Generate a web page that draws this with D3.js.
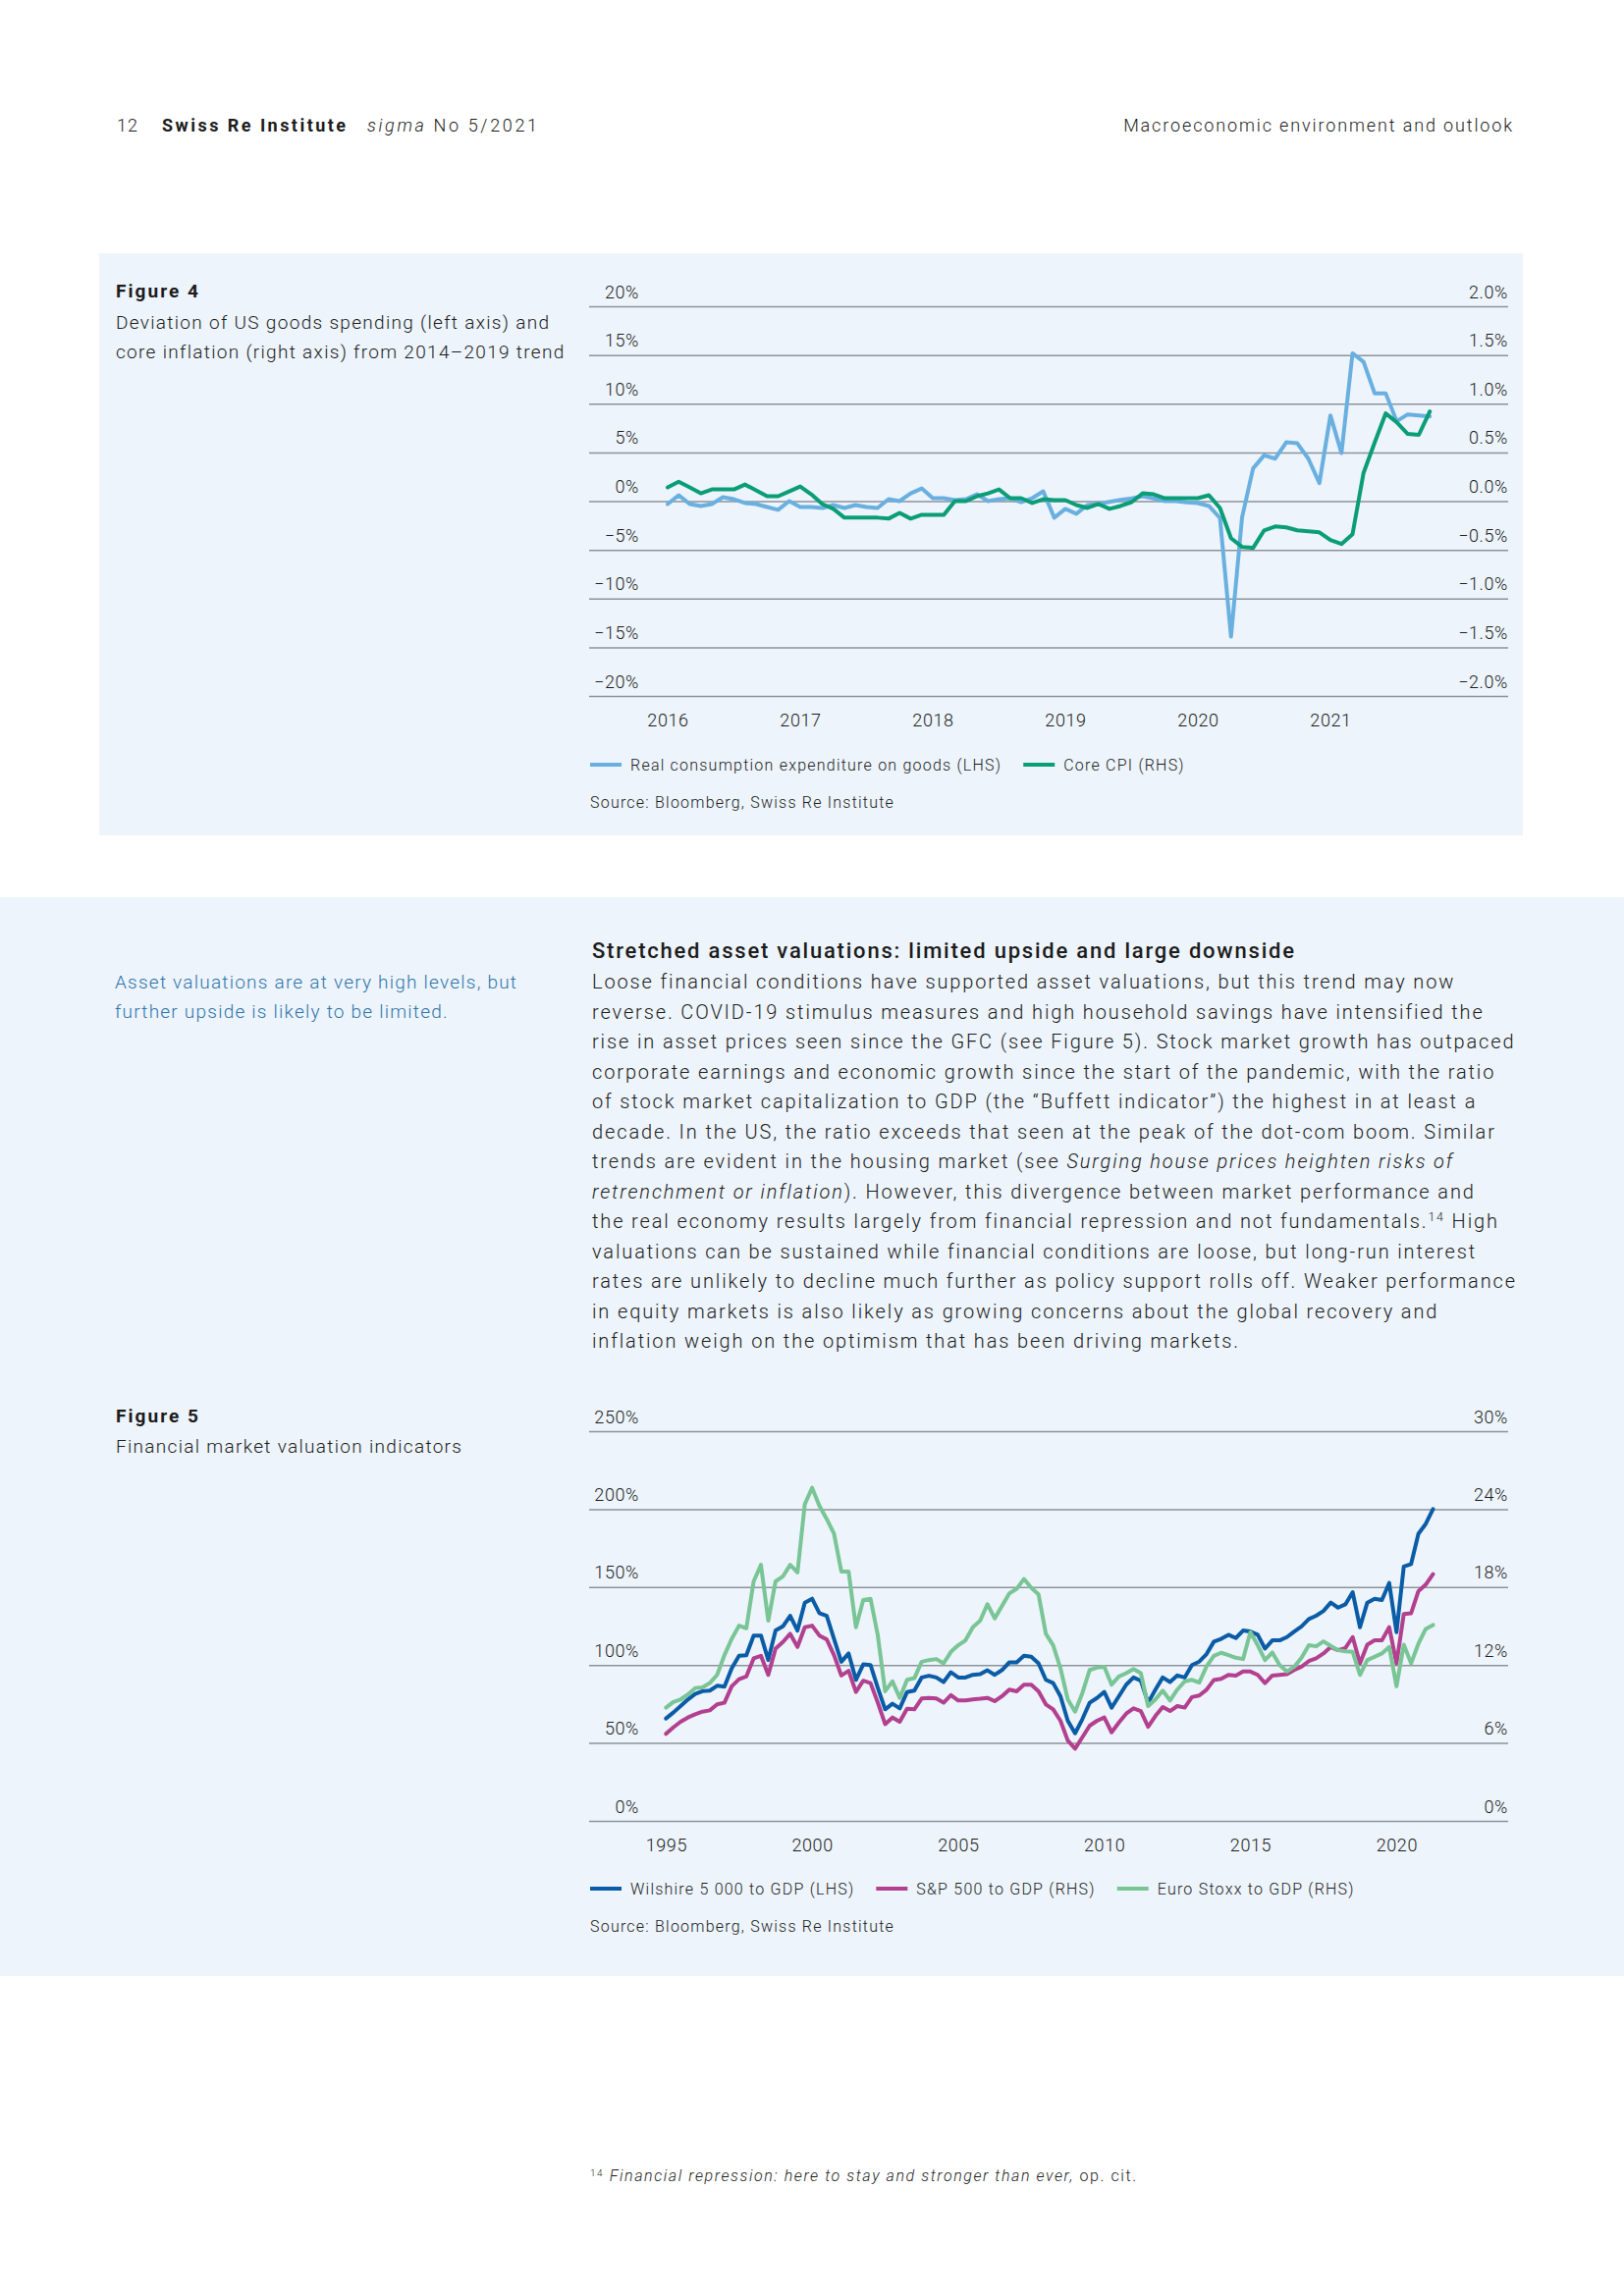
<!DOCTYPE html>
<html lang="en">
<head>
<meta charset="UTF-8">
<script src="https://cdn.jsdelivr.net/npm/d3@7"></script>
<title>sigma No 5/2021 - page 12</title>
<style>
  body { margin: 0; background: #fff; }
  svg text { font-family: Roboto, "Liberation Sans", sans-serif; font-weight: 300; fill: #1c1c1c; }
  .grid line { stroke: #8e939a; stroke-width: 1.5; }
  .grid .domain, .noline .domain, .noline line { display: none; }
  .tick text { font-size: 18px; letter-spacing: 0.6px; }
  .series { fill: none; stroke-width: 4; stroke-linejoin: round; stroke-linecap: round; }
</style>
</head>
<body>
<svg id="page" width="1654" height="2339"></svg>
<script>
// ---- Figure 4 data: monthly, Jan 2016 - Oct 2021 ----
var fig4Start = 2016;
var fig4Years = [2016, 2017, 2018, 2019, 2020, 2021];
var fig4LeftTicks = [-20, -15, -10, -5, 0, 5, 10, 15, 20];
var fig4RightTicks = [-2, -1.5, -1, -0.5, 0, 0.5, 1, 1.5, 2];
// real consumption expenditure on goods, deviation from trend (LHS, %)
var goodsSpending = [
  -0.3, 0.6, -0.3, -0.5, -0.3, 0.4, 0.2, -0.2, -0.3, -0.6, -0.9, 0.0,
  -0.6, -0.6, -0.7, -0.4, -0.7, -0.4, -0.6, -0.7, 0.2, 0.0, 0.8, 1.3,
  0.3, 0.3, 0.1, 0.2, 0.7, 0.0, 0.2, 0.3, -0.1, 0.3, 1.0, -1.7,
  -0.8, -1.3, -0.4, -0.27, -0.07, 0.13, 0.27, 0.5, 0.27, 0.0, 0.0, -0.13,
  -0.2, -0.5, -1.74, -13.9, -1.68, 3.36, 4.7, 4.36, 6.04, 5.94, 4.36, 1.85,
  8.8, 4.93, 15.17, 14.3, 11.07, 11.07, 8.2, 8.9, 8.8, 8.7
];
// core CPI, deviation from trend (RHS, %)
var coreCpi = [
  0.14, 0.20, 0.14, 0.08, 0.12, 0.12, 0.12, 0.17, 0.11, 0.05, 0.05, 0.10,
  0.15, 0.07, -0.03, -0.08, -0.17, -0.17, -0.17, -0.17, -0.18, -0.12, -0.18, -0.14,
  -0.14, -0.14, 0.00, 0.00, 0.05, 0.08, 0.12, 0.03, 0.03, -0.02, 0.02, 0.01,
  0.01, -0.04, -0.07, -0.03, -0.08, -0.05, -0.01, 0.08, 0.07, 0.03, 0.03, 0.03,
  0.03, 0.06, -0.07, -0.38, -0.47, -0.48, -0.30, -0.26, -0.27, -0.30, -0.31, -0.32,
  -0.40, -0.44, -0.34, 0.29, 0.60, 0.90, 0.81, 0.69, 0.68, 0.92
];

// ---- Figure 5 data: quarterly, 1995Q1 - 2021Q2 ----
var fig5Start = 1995;
var fig5Years = [1995, 2000, 2005, 2010, 2015, 2020];
var fig5LeftTicks = [0, 50, 100, 150, 200, 250];
var fig5RightTicks = [0, 6, 12, 18, 24, 30];
// Wilshire 5000 to GDP (LHS, %)
var wilshire = [
  65.7, 69.5, 73.7, 77.9, 81.5, 83.2, 83.6, 86.7, 86.1, 97.9,
  105.9, 106.3, 118.9, 118.9, 103.2, 122.1, 124.8, 131.6, 122.1, 140.0,
  142.5, 133.3, 131.6, 116.8, 102.1, 107.4, 90.5, 100.4, 100.0, 85.3,
  71.6, 75.2, 72.2, 82.7, 83.6, 92.0, 93.1, 92.0, 89.1, 95.4,
  92.0, 92.0, 93.7, 94.1, 96.6, 93.7, 96.8, 101.7, 101.7, 105.9,
  105.3, 101.1, 90.5, 88.4, 80.0, 64.2, 56.2, 65.3, 75.8, 78.9,
  82.7, 72.6, 80.0, 87.4, 92.0, 89.9, 75.8, 84.2, 92.0, 89.1,
  93.3, 92.0, 100.0, 102.2, 107.0, 115.0, 116.8, 119.4, 117.3, 122.1,
  121.5, 119.4, 110.5, 115.8, 115.8, 117.9, 121.5, 124.8, 129.5, 131.6,
  134.7, 140.0, 136.8, 138.9, 146.7, 124.2, 140.0, 142.5, 141.7, 152.6,
  121.1, 163.2, 164.8, 184.2, 190.5, 200.0
];
// S&P 500 to GDP (RHS, %)
var sp500 = [
  6.70, 7.20, 7.63, 7.96, 8.21, 8.41, 8.51, 8.97, 9.10, 10.36,
  10.91, 11.12, 12.51, 12.71, 11.24, 13.26, 13.77, 14.40, 13.39, 14.91,
  15.03, 14.27, 13.97, 12.76, 11.19, 11.55, 9.93, 10.79, 10.61, 9.10,
  7.45, 7.96, 7.63, 8.64, 8.59, 9.42, 9.47, 9.42, 9.10, 9.68,
  9.27, 9.27, 9.35, 9.40, 9.47, 9.22, 9.60, 10.11, 9.98, 10.49,
  10.49, 9.98, 8.97, 8.59, 7.71, 6.19, 5.56, 6.44, 7.33, 7.71,
  7.96, 6.82, 7.58, 8.26, 8.67, 8.46, 7.25, 8.08, 8.77, 8.46,
  8.84, 8.72, 9.53, 9.65, 10.10, 10.85, 10.94, 11.24, 11.19, 11.50,
  11.50, 11.24, 10.61, 11.19, 11.24, 11.29, 11.62, 11.87, 12.30, 12.51,
  12.89, 13.39, 13.14, 13.31, 14.15, 12.13, 13.57, 13.90, 13.90, 14.91,
  12.13, 15.92, 15.99, 17.69, 18.19, 19.00
];
// Euro Stoxx to GDP (RHS, %)
var euroStoxx = [
  8.72, 9.15, 9.35, 9.73, 10.23, 10.28, 10.61, 11.24, 12.76, 14.02,
  15.03, 14.83, 18.44, 19.71, 15.41, 18.44, 18.82, 19.71, 19.13, 24.38,
  25.64, 24.25, 23.24, 22.11, 19.20, 19.20, 14.91, 17.00, 17.10, 14.27,
  9.98, 10.74, 9.47, 10.86, 10.99, 12.25, 12.38, 12.46, 12.13, 13.01,
  13.52, 13.90, 14.91, 15.41, 16.68, 15.59, 16.55, 17.51, 17.86, 18.62,
  17.94, 17.43, 14.40, 13.52, 11.75, 9.35, 8.41, 9.85, 11.62, 11.80,
  11.87, 10.49, 11.12, 11.37, 11.70, 11.37, 8.84, 9.35, 10.03, 9.27,
  10.11, 10.74, 10.86, 10.65, 11.90, 12.70, 12.94, 12.76, 12.56, 12.46,
  14.53, 13.52, 12.38, 12.96, 12.00, 11.50, 11.87, 12.56, 13.52, 13.44,
  13.82, 13.47, 13.14, 13.06, 13.01, 11.24, 12.38, 12.63, 12.89, 13.39,
  10.36, 13.57, 12.13, 13.64, 14.78, 15.08
];

var bodyLines = [
  [["Loose financial conditions have supported asset valuations, but this trend may now"]],
  [["reverse. COVID-19 stimulus measures and high household savings have intensified the"]],
  [["rise in asset prices seen since the GFC (see Figure 5). Stock market growth has outpaced"]],
  [["corporate earnings and economic growth since the start of the pandemic, with the ratio"]],
  [["of stock market capitalization to GDP (the \u201cBuffett indicator\u201d) the highest in at least a"]],
  [["decade. In the US, the ratio exceeds that seen at the peak of the dot-com boom. Similar"]],
  [["trends are evident in the housing market (see "], ["Surging house prices heighten risks of", "i"]],
  [["retrenchment or inflation", "i"], ["). However, this divergence between market performance and"]],
  [["the real economy results largely from financial repression and not fundamentals."], ["14", "sup"], [" High"]],
  [["valuations can be sustained while financial conditions are loose, but long-run interest"]],
  [["rates are unlikely to decline much further as policy support rolls off. Weaker performance"]],
  [["in equity markets is also likely as growing concerns about the global recovery and"]],
  [["inflation weigh on the optimism that has been driving markets."]]
];

var svg = d3.select("#page");
var panelFill = "#edf4fb";

// draws one line of mixed text: parts are [string, style]
function textLine(g, x, y, parts, size, color) {
  var t = g.append("text").attr("x", x).attr("y", y).style("font-size", size + "px");
  if (color) t.style("fill", color);
  parts.forEach(function(p) {
    var s = t.append("tspan").text(p[0]);
    if (p[1] == "i") s.style("font-style", "italic");
    if (p[1] == "b") s.style("font-weight", 700);
    if (p[1] == "sup") s.attr("baseline-shift", "super").style("font-size", (size * 0.62) + "px");
  });
  return t;
}

// letter spacing that makes a text run the width it has in the print layout
function spacingFor(t, width) {
  var w = t.node().getComputedTextLength();
  var n = t.text().length;
  return (width - w) / Math.max(n - 1, 1);
}
function track(t, sp) { t.style("letter-spacing", sp + "px"); return t; }
function fit(t, width) { return track(t, spacingFor(t, width)); }

// backgrounds
svg.append("rect").attr("x", 101).attr("y", 258).attr("width", 1450).attr("height", 593).attr("fill", panelFill);
svg.append("rect").attr("x", 0).attr("y", 914).attr("width", 1654).attr("height", 1099).attr("fill", panelFill);

// running header
fit(textLine(svg, 1542, 134, [["Macroeconomic environment and outlook"]], 18).attr("text-anchor", "end"), 396);
textLine(svg, 119, 134, [["12"]], 18).style("letter-spacing", "1px");
fit(textLine(svg, 165, 134, [["Swiss Re Institute", "b"]], 18), 187);
fit(textLine(svg, 374, 134, [["sigma", "i"], [" No 5/2021"]], 18), 173);

var legendSp = null;

function drawChart(o) {
  var g = svg.append("g");
  var gridL = 600, gridR = 1536;
  g.append("g").attr("class", "grid").attr("transform", "translate(" + gridR + ",0)")
    .call(d3.axisLeft(o.yL).tickValues(o.leftTicks).tickSize(gridR - gridL).tickFormat(o.fmtL))
    .call(function(s) {
      s.selectAll(".tick text").attr("x", -(gridR - gridL) + 51).attr("dy", -9).attr("text-anchor", "end");
    });
  g.append("g").attr("class", "noline").attr("transform", "translate(" + gridR + ",0)")
    .call(d3.axisRight(o.yR).tickValues(o.rightTicks).tickSize(0).tickFormat(o.fmtR))
    .call(function(s) {
      s.selectAll(".tick text").attr("x", 0).attr("dy", -9).attr("text-anchor", "end");
    });
  g.append("g").attr("class", "noline").attr("transform", "translate(0," + o.yL.range()[0] + ")")
    .call(d3.axisBottom(o.x).tickValues(o.years).tickSize(0).tickFormat(d3.format("d")))
    .call(function(s) {
      s.selectAll(".tick text").attr("y", 31).attr("dy", 0);
    });
  o.series.forEach(function(sr) {
    var yy = sr.axis == "L" ? o.yL : o.yR;
    var line = d3.line()
      .x(function(d, i) { return o.x(o.start + i / o.perYear); })
      .y(function(d) { return yy(d); });
    g.append("path").attr("class", "series").attr("d", line(sr.values)).attr("stroke", sr.color);
  });
  var lx = 601;
  o.series.forEach(function(sr, i) {
    g.append("line").attr("x1", lx).attr("x2", lx + 32).attr("y1", o.legendY).attr("y2", o.legendY)
      .attr("stroke", sr.color).attr("stroke-width", 4);
    var t = textLine(g, lx + 41, o.legendY + 6, [[sr.name]], 16);
    // the first legend label of figure 4 sets the tracking for all small print
    if (legendSp === null) legendSp = spacingFor(t, 377);
    track(t, legendSp);
    lx = lx + 41 + t.node().getComputedTextLength() + 22;
  });
  track(textLine(g, 601, o.legendY + 44, [["Source: Bloomberg, Swiss Re Institute"]], 16), legendSp);
}

// Figure 4
var sub4 = textLine(svg, 118, 365, [["core inflation (right axis) from 2014\u20132019 trend"]], 19);
var capSp = spacingFor(sub4, 456);
track(sub4, capSp);
track(textLine(svg, 118, 335, [["Deviation of US goods spending (left axis) and"]], 19), capSp);
fit(textLine(svg, 118, 303, [["Figure 4", "b"]], 19), 84);
drawChart({
  x: d3.scaleLinear().domain([2016, 2022]).range([680, 1490]),
  yL: d3.scaleLinear().domain([-20, 20]).range([709, 312]),
  yR: d3.scaleLinear().domain([-2, 2]).range([709, 312]),
  leftTicks: fig4LeftTicks, rightTicks: fig4RightTicks, years: fig4Years,
  fmtL: function(d) { return d3.format("d")(d) + "%"; },
  fmtR: function(d) { return d3.format(".1f")(d) + "%"; },
  start: fig4Start, perYear: 12, legendY: 779,
  series: [
    {name: "Real consumption expenditure on goods (LHS)", values: goodsSpending, axis: "L", color: "#69b0e0"},
    {name: "Core CPI (RHS)", values: coreCpi, axis: "R", color: "#0b9d78"}
  ]
});

// Section text
var side1 = textLine(svg, 117, 1007, [["Asset valuations are at very high levels, but"]], 19, "#2f74ad");
var sideSp = spacingFor(side1, 409);
track(side1, sideSp);
track(textLine(svg, 117, 1037, [["further upside is likely to be limited."]], 19, "#2f74ad"), sideSp);
fit(textLine(svg, 603, 976, [["Stretched asset valuations: limited upside and large downside"]], 22).style("font-weight", 500), 715);
var bodySp = null;
bodyLines.forEach(function(parts, i) {
  var t = textLine(svg, 603, 1007 + i * 30.5, parts, 20);
  if (bodySp === null) bodySp = spacingFor(t, 877);
  track(t, bodySp);
});

// Figure 5
fit(textLine(svg, 118, 1449, [["Figure 5", "b"]], 19), 84);
track(textLine(svg, 118, 1480, [["Financial market valuation indicators"]], 19), capSp);
drawChart({
  x: d3.scaleLinear().domain([1995, 2020]).range([678.3, 1422.3]),
  yL: d3.scaleLinear().domain([0, 250]).range([1855, 1458]),
  yR: d3.scaleLinear().domain([0, 30]).range([1855, 1458]),
  leftTicks: fig5LeftTicks, rightTicks: fig5RightTicks, years: fig5Years,
  fmtL: function(d) { return d + "%"; },
  fmtR: function(d) { return d + "%"; },
  start: fig5Start, perYear: 4, legendY: 1924,
  series: [
    {name: "Wilshire 5 000 to GDP (LHS)", values: wilshire, axis: "L", color: "#0b5ca6"},
    {name: "S&P 500 to GDP (RHS)", values: sp500, axis: "R", color: "#b2408f"},
    {name: "Euro Stoxx to GDP (RHS)", values: euroStoxx, axis: "R", color: "#79c596"}
  ]
});

// footnote
fit(textLine(svg, 601, 2222, [["14", "sup"], [" "], ["Financial repression: here to stay and stronger than ever,", "i"], [" op. cit."]], 16), 556);
</script>
</body>
</html>
